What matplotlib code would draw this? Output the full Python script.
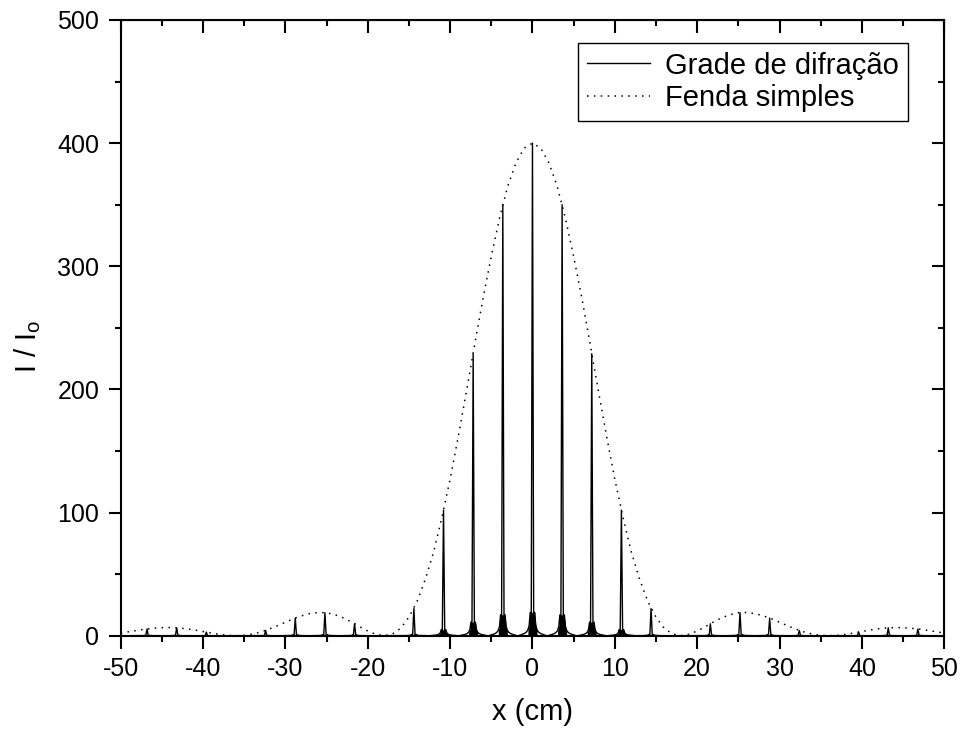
import numpy as np
import matplotlib
matplotlib.use("Agg")
import matplotlib.pyplot as plt
from matplotlib.ticker import MultipleLocator

plt.rcParams['font.family'] = ['Liberation Sans', 'DejaVu Sans']
plt.rcParams['axes.unicode_minus'] = False

# envelope (single slit), read every 1 cm for x >= 0, mirrored for x < 0
env_x_half = np.arange(0, 51, 1)
env_y_half = [400, 396, 384, 365, 339, 308, 274, 237, 199, 162,
              127, 96, 68, 46, 28, 15, 6, 1.4, 0, 1.1,
              3.8, 7.4, 11.2, 14.6, 17.1, 18.6, 18.8, 18.0, 16.2, 13.8,
              10.9, 8.0, 5.3, 3.0, 1.3, 0.3, 0, 0.3, 1.1, 2.2,
              3.4, 4.6, 5.6, 6.3, 6.6, 6.5, 6.0, 5.3, 4.3, 3.2, 2.2]

# grating main maxima, x >= 0 (mirrored)
peak_x_half = [0, 3.6, 7.2, 10.8, 14.4, 18.0, 21.6, 25.2, 28.8, 32.4, 36.0, 39.6, 43.2, 46.8]
peak_h_half = [400, 350, 229, 102, 22, 0, 9.7, 18.7, 14.3, 4.3, 0, 2.9, 6.4, 5.4]
# small side lobes at the foot of each maximum
shoulder_half = [19, 17, 11, 5, 1, 0, 0.5, 0.9, 0.7, 0.2, 0, 0.1, 0.3, 0.3]

env_x = np.concatenate((-env_x_half[:0:-1], env_x_half))
env_y = np.concatenate((env_y_half[:0:-1], env_y_half))

peak_x = np.concatenate((-np.array(peak_x_half[:0:-1]), peak_x_half))
peak_h = np.concatenate((peak_h_half[:0:-1], peak_h_half))
shoulder = np.concatenate((shoulder_half[:0:-1], shoulder_half))

# shape of the foot of one maximum (offset in cm, fraction of side lobe)
foot_off = np.array([0.27, 0.4, 0.55, 0.75, 1.0, 1.3, 1.7])
foot_frac = np.array([1.0, 0.45, 0.25, 0.15, 0.09, 0.05, 0.0])

fig = plt.figure(figsize=(9.6, 7.29), dpi=100)
ax = fig.add_axes([0.1257, 0.128, 0.8579, 0.8446])

gx = [-50]
gy = [0]
for x0, h, s in zip(peak_x, peak_h, shoulder):
    xs = np.concatenate((x0 - foot_off[::-1], [x0 - 0.15, x0, x0 + 0.15], x0 + foot_off))
    ys = np.concatenate((s * foot_frac[::-1], [0.3 * s, h, 0.3 * s], s * foot_frac))
    gx.extend(xs)
    gy.extend(ys)
    # dense side lobes look solid black near the foot
    fx = np.concatenate((x0 - foot_off[:3][::-1], [x0], x0 + foot_off[:3]))
    fy = np.concatenate((s * foot_frac[:3][::-1], [s], s * foot_frac[:3]))
    ax.fill_between(fx, 0, fy, color='black', lw=0)
gx.append(50)
gy.append(0)

ax.plot(gx, gy, color='black', lw=1.0, label='Grade de difração')
ax.plot(env_x, env_y, color='black', lw=1.1, linestyle=(0, (1, 3.5)), label='Fenda simples')

ax.set_xlim(-50, 50)
ax.set_ylim(0, 500)
ax.xaxis.set_major_locator(MultipleLocator(10))
ax.xaxis.set_minor_locator(MultipleLocator(5))
ax.yaxis.set_major_locator(MultipleLocator(100))
ax.yaxis.set_minor_locator(MultipleLocator(50))

for sp in ax.spines.values():
    sp.set_linewidth(1.5)

ax.tick_params(which='both', direction='out', width=1.5, labelsize=18, pad=6.5,
               top=False, right=False)
ax.tick_params(which='major', length=9)
ax.tick_params(which='minor', length=4.5)

top = ax.secondary_xaxis('top')
top.xaxis.set_major_locator(MultipleLocator(10))
top.xaxis.set_minor_locator(MultipleLocator(5))
top.tick_params(which='both', direction='in', width=1.5, labeltop=False)
top.tick_params(which='major', length=9)
top.tick_params(which='minor', length=4.5)

right = ax.secondary_yaxis('right')
right.yaxis.set_major_locator(MultipleLocator(100))
right.yaxis.set_minor_locator(MultipleLocator(50))
right.tick_params(which='both', direction='in', width=1.5, labelright=False)
right.tick_params(which='major', length=9)
right.tick_params(which='minor', length=4.5)

ax.set_xlabel('x (cm)', fontsize=21, labelpad=12)
ax.set_ylabel('I / I$_\\mathregular{o}$', fontsize=21)
ax.yaxis.set_label_coords(-0.094, 0.47)

leg = ax.legend(loc='upper right', bbox_to_anchor=(0.956, 0.963), borderaxespad=0,
                fontsize=21, frameon=True, fancybox=False, edgecolor='black',
                framealpha=1, handlelength=2.17, borderpad=0.3, labelspacing=0.17,
                handletextpad=0.52)
leg.get_frame().set_linewidth(1.0)

fig.savefig('out.png', dpi=100)
